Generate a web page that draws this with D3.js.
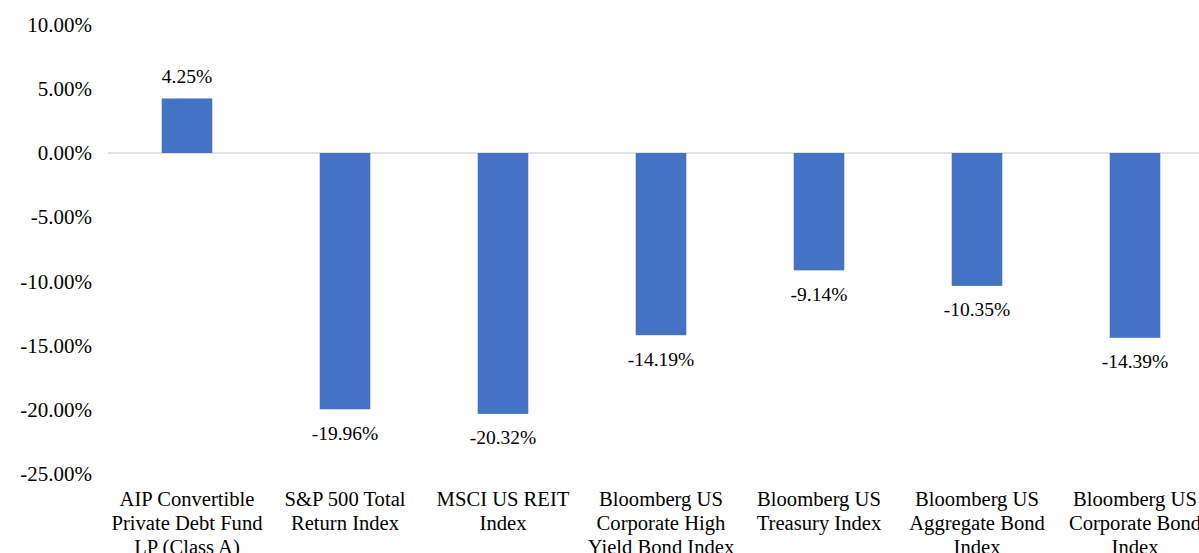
<!DOCTYPE html>
<html>
<head>
<meta charset="utf-8">
<script src="https://cdn.jsdelivr.net/npm/d3@7"></script>
<style>
  html, body { margin: 0; background: #fff; overflow: hidden; }
  #chart { position: relative; width: 1199px; height: 553px; overflow: hidden; }
  #chart svg { position: absolute; left: 0; top: 0; display: block; }
  .lbl { position: absolute; white-space: nowrap; font-family: "Liberation Serif", "Times New Roman", serif; color: #000; }
</style>
</head>
<body>
<div id="chart"></div>
<script>
// category names, "\n" marks where the label wraps
var categories = [
	"AIP Convertible\nPrivate Debt Fund\nLP (Class A)",
	"S&P 500 Total\nReturn Index",
	"MSCI US REIT\nIndex",
	"Bloomberg US\nCorporate High\nYield Bond Index",
	"Bloomberg US\nTreasury Index",
	"Bloomberg US\nAggregate Bond\nIndex",
	"Bloomberg US\nCorporate Bond\nIndex"
];
var returns = [4.25, -19.96, -20.32, -14.19, -9.14, -10.35, -14.39];
var yTicks = [10, 5, 0, -5, -10, -15, -20, -25];

var width = 1199, height = 553;

// plain hyphen for negatives, like the original
var fmt = d3.formatLocale({decimal: ".", thousands: ",", grouping: [3], currency: ["", ""], minus: "-"}).format(".2f");
var pct = function(v) { return fmt(v) + "%"; };

var chart = d3.select("#chart");

var svg = chart.append("svg")
	.attr("width", width)
	.attr("height", height);

var x = d3.scaleBand()
	.domain(categories)
	.range([108, 1214])
	.paddingInner(0.68)
	.paddingOuter(0.34);

var y = d3.scaleLinear()
	.domain([-25, 10])
	.range([474, 24.6]);

// labels are html divs laid over the svg
// top of a line box so that its baseline lands on by
function topFor(by, fs, lh) {
	return by - (lh - 1.107 * fs) / 2 - 0.891 * fs;
}

function addLabels(cls, items, opt) {
	return chart.selectAll("." + cls)
		.data(items)
		.enter()
			.append("div")
				.attr("class", "lbl " + cls)
				.style("font-size", opt.fs + "px")
				.style("line-height", opt.lh + "px")
				.style("text-align", opt.align)
				.style("left", function(d) { return opt.x(d) + "px"; })
				.style("top", function(d) { return topFor(opt.y(d), opt.fs, opt.lh) + "px"; })
				.style("transform", opt.transform)
				.style("transform-origin", opt.origin);
}

// y tick labels, right aligned at x=92, no axis line
addLabels("ytick", yTicks, {
	fs: 20, lh: 24, align: "right",
	x: function() { return 92; },
	y: function(d) { return y(d) + 7; },
	transform: "translateX(-100%) scaleX(1.05)",
	origin: "right"
})
	.text(pct);

// zero line
svg.append("line")
	.attr("x1", 108)
	.attr("x2", width)
	.attr("y1", y(0))
	.attr("y2", y(0))
	.attr("stroke", "#d9d9d9")
	.attr("stroke-width", 1.5);

var data = categories.map(function(c, i) { return {name: c, value: returns[i]}; });

svg.selectAll(".bar")
	.data(data)
	.enter()
		.append("rect")
			.attr("class", "bar")
			.attr("x", function(d) { return x(d.name); })
			.attr("width", x.bandwidth())
			.attr("y", function(d) { return y(Math.max(0, d.value)); })
			.attr("height", function(d) { return Math.abs(y(d.value) - y(0)); })
			.attr("fill", "#4472c4");

// value labels
addLabels("val", data, {
	fs: 19.5, lh: 24, align: "center",
	x: function(d) { return x(d.name) + x.bandwidth() / 2; },
	y: function(d) { return d.value >= 0 ? y(d.value) - 15 : y(d.value) + 31; },
	transform: "translateX(-50%)",
	origin: "center"
})
	.text(function(d) { return pct(d.value); });

// category labels, wrapped
addLabels("cat", data, {
	fs: 20, lh: 24, align: "center",
	x: function(d) { return x(d.name) + x.bandwidth() / 2; },
	y: function() { return 506; },
	transform: "translateX(-50%) scaleX(1.03)",
	origin: "center top"
})
	.html(function(d) {
		return d.name.split("\n").map(function(s) {
			return s.replace(/&/g, "&amp;");
		}).join("<br>");
	});
</script>
</body>
</html>
